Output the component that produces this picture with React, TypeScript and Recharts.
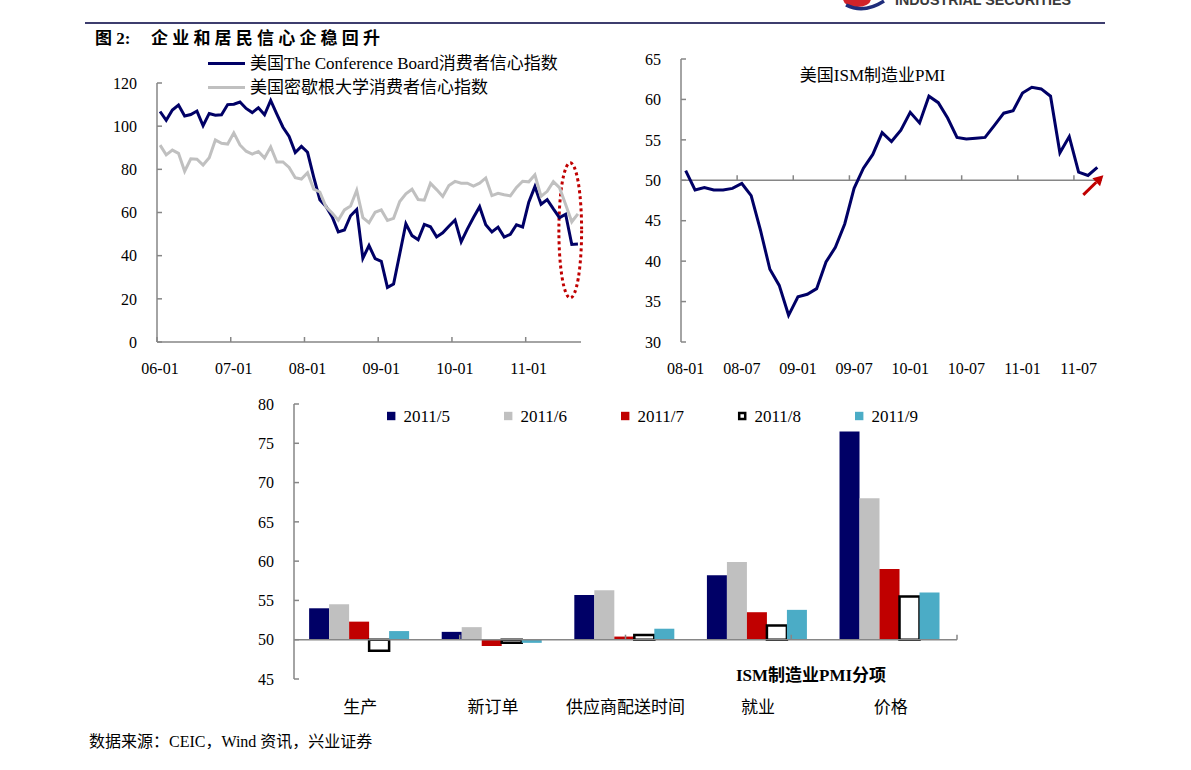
import React from 'react';
import { LineChart, Line, XAxis, YAxis, ReferenceLine, ReferenceArea, BarChart, Bar } from 'recharts';

const FONT = '"Liberation Serif", "Times New Roman", "Noto Sans CJK SC", serif';
const NAVY = '#000066';
const GRAY = '#c0c0c0';
const RED = '#c00000';
const CYAN = '#4bacc6';
const AXIS = '#868686';

// ---------------- Chart 1: consumer confidence (monthly, 2006-01 .. 2011-09)
const confTickLabels = ['06-01', '07-01', '08-01', '09-01', '10-01', '11-01'];
const confSeriesNames = ['美国The Conference Board消费者信心指数', '美国密歇根大学消费者信心指数'];
const conferenceBoard = [
  106.8, 102.7, 107.5, 109.8, 104.7, 105.4, 107.0, 100.2, 105.9, 105.1, 105.3, 110.0,
  110.2, 111.2, 108.2, 106.3, 108.5, 105.3, 111.9, 105.6, 99.5, 95.2, 87.8, 90.6,
  87.9, 76.4, 65.9, 62.8, 58.1, 51.0, 51.9, 58.5, 61.4, 38.8, 44.7, 38.6,
  37.4, 25.3, 26.9, 40.8, 54.8, 49.3, 47.4, 54.5, 53.4, 48.7, 50.6, 53.6,
  56.5, 46.4, 52.3, 57.7, 62.7, 54.3, 51.0, 53.2, 48.6, 49.9, 54.3, 53.3,
  64.8, 72.0, 63.8, 66.0, 61.7, 57.6, 59.2, 45.2, 45.4,
];
const michigan = [
  91.2, 86.7, 88.9, 87.4, 79.1, 84.9, 84.7, 82.0, 85.4, 93.6, 92.1, 91.7,
  96.9, 91.3, 88.4, 87.1, 88.3, 85.3, 90.4, 83.4, 83.4, 80.9, 76.1, 75.5,
  78.4, 70.8, 69.5, 62.6, 59.8, 56.4, 61.2, 63.0, 70.3, 57.6, 55.3, 60.1,
  61.2, 56.3, 57.3, 65.1, 68.7, 70.8, 66.0, 65.7, 73.5, 70.6, 67.4, 72.5,
  74.4, 73.6, 73.6, 72.2, 73.6, 76.0, 67.8, 68.9, 68.2, 67.7, 71.6, 74.5,
  74.2, 77.5, 67.5, 69.8, 74.3, 71.5, 63.7, 55.7, 59.4,
];
const confYTicks = [0, 20, 40, 60, 80, 100, 120];

// ---------------- Chart 2: ISM manufacturing PMI (monthly, 2008-01 .. 2011-09)
const pmiTickLabels = ['08-01', '08-07', '09-01', '09-07', '10-01', '10-07', '11-01', '11-07'];
const pmiTitle = '美国ISM制造业PMI';
const ismPmi = [
  51.2, 48.8, 49.1, 48.8, 48.8, 49.0, 49.6, 48.1, 43.8, 39.0, 37.0, 33.3,
  35.6, 35.9, 36.6, 39.9, 41.7, 44.6, 49.0, 51.5, 53.2, 55.9, 54.8, 56.2,
  58.4, 57.1, 60.4, 59.6, 57.7, 55.3, 55.1, 55.2, 55.3, 56.8, 58.3, 58.6,
  60.8, 61.5, 61.3, 60.4, 53.4, 55.4, 51.0, 50.6, 51.6,
];
const pmiYTicks = [30, 35, 40, 45, 50, 55, 60, 65];

// ---------------- Chart 3: ISM sub-indices
const subCategories = ['生产', '新订单', '供应商配送时间', '就业', '价格'];
const subSeriesNames = ['2011/5', '2011/6', '2011/7', '2011/8', '2011/9'];
const sub2011May = [54.0, 51.0, 55.7, 58.2, 76.5];
const sub2011Jun = [54.5, 51.6, 56.3, 59.9, 68.0];
const sub2011Jul = [52.3, 49.2, 50.4, 53.5, 59.0];
const sub2011Aug = [48.6, 49.6, 50.6, 51.8, 55.5];
const sub2011Sep = [51.1, 49.6, 51.4, 53.8, 56.0];
const subYTicks = [45, 50, 55, 60, 65, 70, 75, 80];
const subBase = 50;
const subAxisTitle = 'ISM制造业PMI分项';

// ---------------- text
const figTitleNo = '图 2:';
const figTitle = '企业和居民信心企稳回升';
const sourceNote = '数据来源：CEIC，Wind 资讯，兴业证券';

// ---------------- tables
const confData = conferenceBoard.map((v, i) => ({ x: i + 0.5, cb: v, um: michigan[i] }));
const pmiData = ismPmi.map((v, i) => ({ x: i + 0.5, pmi: v }));
const subSeries = [sub2011May, sub2011Jun, sub2011Jul, sub2011Aug, sub2011Sep];
const subData = subCategories.map((name, c) => {
  const row: any = { name };
  subSeries.forEach((s, k) => {
    const v = s[c];
    row['s' + k] = [Math.min(subBase, v), Math.max(subBase, v)];
  });
  return row;
});
const subStyles = [
  { fill: NAVY, stroke: 'none', strokeWidth: 0 },
  { fill: GRAY, stroke: 'none', strokeWidth: 0 },
  { fill: RED, stroke: 'none', strokeWidth: 0 },
  { fill: '#ffffff', stroke: '#000000', strokeWidth: 2.5 },
  { fill: CYAN, stroke: 'none', strokeWidth: 0 },
];

const makeXTick = (labels: string[], step: number, shift: number) => (props: any) => {
  const { x, y, payload } = props;
  const idx = Math.round(payload.value / step);
  return (
    <text x={x + shift} y={y} textAnchor="middle" dominantBaseline="central" fontFamily={FONT} fontSize={16} fill="#000">
      {labels[idx]}
    </text>
  );
};

const CatTick = (props: any) => {
  const { x, y, payload } = props;
  return (
    <text x={x} y={y} textAnchor="middle" dominantBaseline="central" fontFamily={FONT} fontSize={17} fill="#000">
      {payload.value}
    </text>
  );
};

const yTickStyle = { fontFamily: FONT, fontSize: 16, fill: '#000' };

const DottedEllipse = (props: any) => {
  const { x, y, width, height } = props;
  return (
    <ellipse
      cx={x + width / 2}
      cy={y + height / 2}
      rx={Math.abs(width) / 2}
      ry={Math.abs(height) / 2}
      fill="none"
      stroke={RED}
      strokeWidth={3}
      strokeDasharray="3 3"
    />
  );
};

const Arrow = (props: any) => {
  const { x1, y1, x2, y2 } = props;
  const dx = x2 - x1;
  const dy = y2 - y1;
  const len = Math.sqrt(dx * dx + dy * dy) || 1;
  const ux = dx / len;
  const uy = dy / len;
  const head = 10;
  const half = 5.5;
  const bx = x2 - ux * head;
  const by = y2 - uy * head;
  const pts = `${x2},${y2} ${bx - uy * half},${by + ux * half} ${bx + uy * half},${by - ux * half}`;
  return (
    <g>
      <line x1={x1} y1={y1} x2={bx} y2={by} stroke={RED} strokeWidth={3} />
      <polygon points={pts} fill={RED} />
    </g>
  );
};

export default function App() {
  const confTicks = confTickLabels.map((_, k) => k * 12);
  const pmiTicks = pmiTickLabels.map((_, k) => k * 6);
  const seriesColors = [NAVY, GRAY];
  return (
    <div style={{ position: 'absolute', left: 0, top: 0, width: 1191, height: 770, background: '#fff', overflow: 'hidden' }}>
      {/* Chart 1 */}
      <div style={{ position: 'absolute', left: 90, top: 40 }}>
        <LineChart width={501} height={342} data={confData} margin={{ top: 43, right: 10, bottom: 0, left: 7 }}>
          <XAxis
            dataKey="x"
            type="number"
            domain={[0, 69]}
            ticks={confTicks}
            interval={0}
            allowDataOverflow
            tickSize={-5}
            tickMargin={31}
            stroke={AXIS}
            strokeWidth={1.5}
            height={40}
            tick={makeXTick(confTickLabels, 12, 3)}
          />
          <YAxis
            domain={[0, 120]}
            ticks={confYTicks}
            interval={0}
            allowDataOverflow
            tickSize={-5}
            tickMargin={25}
            stroke={AXIS}
            strokeWidth={1.5}
            width={60}
            tick={yTickStyle}
          />
          <Line dataKey="cb" type="linear" stroke={NAVY} strokeWidth={3} dot={false} isAnimationActive={false} />
          <Line dataKey="um" type="linear" stroke={GRAY} strokeWidth={3} dot={false} isAnimationActive={false} />
          <ReferenceArea x1={65.4} x2={69.1} y1={20.4} y2={83} ifOverflow="visible" shape={DottedEllipse} />
        </LineChart>
      </div>

      {/* Chart 2 */}
      <div style={{ position: 'absolute', left: 610, top: 30 }}>
        <LineChart width={502} height={352} data={pmiData} margin={{ top: 29, right: 10, bottom: 0, left: 11 }}>
          <XAxis
            dataKey="x"
            type="number"
            domain={[0, 45]}
            ticks={pmiTicks}
            interval={0}
            allowDataOverflow
            axisLine={false}
            tickLine={false}
            tickSize={0}
            tickMargin={26}
            height={40}
            tick={makeXTick(pmiTickLabels, 6, 4.7)}
          />
          <YAxis
            domain={[30, 65]}
            ticks={pmiYTicks}
            interval={0}
            allowDataOverflow
            tickSize={-5}
            tickMargin={25}
            stroke={AXIS}
            strokeWidth={1.5}
            width={60}
            tick={yTickStyle}
          />
          <ReferenceLine y={50} stroke={AXIS} strokeWidth={1.5} />
          {pmiTicks.slice(1).map((t) => (
            <ReferenceLine
              key={'pt' + t}
              segment={[{ x: t, y: 50 }, { x: t, y: 50.62 }]}
              stroke={AXIS}
              strokeWidth={1.5}
              ifOverflow="visible"
            />
          ))}
          <Line dataKey="pmi" type="linear" stroke={NAVY} strokeWidth={3} dot={false} isAnimationActive={false} />
          <ReferenceLine
            segment={[{ x: 43.0, y: 48.2 }, { x: 45.15, y: 50.62 }]}
            ifOverflow="visible"
            shape={Arrow}
          />
        </LineChart>
      </div>

      {/* Chart 3 */}
      <div style={{ position: 'absolute', left: 220, top: 380 }}>
        <BarChart
          width={747}
          height={344}
          data={subData}
          margin={{ top: 24, right: 10, bottom: 0, left: 14 }}
          barCategoryGap="11.4%"
          barGap={0}
        >
          <XAxis
            dataKey="name"
            axisLine={false}
            tickLine={false}
            tickSize={0}
            tickMargin={28}
            height={45}
            interval={0}
            tick={CatTick}
          />
          <XAxis xAxisId="edge" type="number" domain={[0, 5]} allowDataOverflow hide />
          <YAxis
            domain={[45, 80]}
            ticks={subYTicks}
            interval={0}
            allowDataOverflow
            tickSize={-5}
            tickMargin={25}
            stroke={AXIS}
            strokeWidth={1.5}
            width={60}
            tick={yTickStyle}
          />
          {subSeriesNames.map((n, k) => (
            <Bar
              key={n}
              dataKey={'s' + k}
              name={n}
              fill={subStyles[k].fill}
              stroke={subStyles[k].stroke}
              strokeWidth={subStyles[k].strokeWidth}
              isAnimationActive={false}
            />
          ))}
          <ReferenceLine y={subBase} stroke={AXIS} strokeWidth={1.5} />
          {[1, 2, 3, 4, 5].map((k) => (
            <ReferenceLine
              key={'bt' + k}
              xAxisId="edge"
              segment={[{ x: k, y: subBase }, { x: k, y: subBase + 0.64 }]}
              stroke={AXIS}
              strokeWidth={1.5}
              ifOverflow="visible"
            />
          ))}
        </BarChart>
      </div>

      {/* Overlay: titles, legends, notes */}
      <svg
        width={1191}
        height={770}
        style={{ position: 'absolute', left: 0, top: 0, pointerEvents: 'none' }}
      >
        {/* header logo fragment */}
        <ellipse cx={857} cy={-1} rx={14} ry={8} fill="#d2232a" />
        <path d="M 846 5 Q 864 14 884 1" fill="none" stroke="#1f2d7b" strokeWidth={3.5} />
        <text
          x={895}
          y={5}
          fontFamily='"Liberation Sans", Arial, sans-serif'
          fontWeight="bold"
          fontSize={15}
          fill="#3a3a3a"
          textLength={176}
          lengthAdjust="spacingAndGlyphs"
        >
          INDUSTRIAL SECURITIES
        </text>
        <line x1={85} y1={23} x2={1105} y2={23} stroke="#3d3d6e" strokeWidth={2} />

        {/* figure title */}
        <text x={95} y={44} fontFamily={FONT} fontWeight="bold" fontSize={17} fill="#000">
          {figTitleNo}
        </text>
        <text
          x={151}
          y={44}
          fontFamily={FONT}
          fontWeight="bold"
          fontSize={17}
          fill="#000"
          textLength={229}
          lengthAdjust="spacing"
        >
          {figTitle}
        </text>

        {/* chart 1 legend */}
        {confSeriesNames.map((n, k) => (
          <g key={n}>
            <line x1={208} y1={63.5 + k * 24} x2={245} y2={63.5 + k * 24} stroke={seriesColors[k]} strokeWidth={3} />
            <text x={250} y={63.5 + k * 24} dominantBaseline="central" fontFamily={FONT} fontSize={17} fill="#000">
              {n}
            </text>
          </g>
        ))}

        {/* chart 2 label */}
        <text x={872.5} y={75} textAnchor="middle" dominantBaseline="central" fontFamily={FONT} fontSize={17} fill="#000">
          {pmiTitle}
        </text>

        {/* chart 3 legend */}
        {subSeriesNames.map((n, k) => {
          const sx = 387 + k * 117;
          const st = subStyles[k];
          const outline = st.strokeWidth > 0;
          return (
            <g key={n}>
              <rect
                x={outline ? sx + 1.2 : sx}
                y={outline ? 413 : 411.8}
                width={outline ? 6 : 8.4}
                height={outline ? 6 : 8.4}
                fill={st.fill}
                stroke={outline ? st.stroke : 'none'}
                strokeWidth={outline ? 2.5 : 0}
              />
              <text x={sx + 16.5} y={416} dominantBaseline="central" fontFamily={FONT} fontSize={17} fill="#000">
                {n}
              </text>
            </g>
          );
        })}
        <text x={811} y={675} textAnchor="middle" dominantBaseline="central" fontFamily={FONT} fontWeight="bold" fontSize={17} fill="#000">
          {subAxisTitle}
        </text>

        {/* source */}
        <text x={89} y={747} fontFamily={FONT} fontSize={16} fill="#000">
          {sourceNote}
        </text>
      </svg>
    </div>
  );
}
